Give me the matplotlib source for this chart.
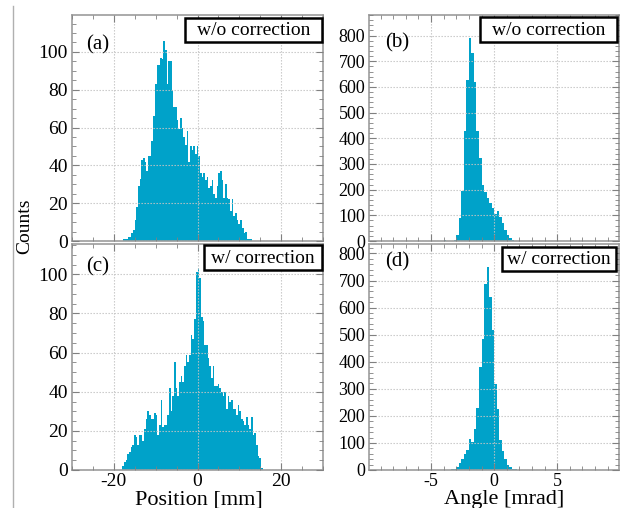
import matplotlib
matplotlib.use('Agg')
import matplotlib.pyplot as plt
import numpy as np
from matplotlib.ticker import MultipleLocator
from matplotlib.patches import Rectangle
from matplotlib.lines import Line2D

plt.rcParams['font.family'] = ['Liberation Serif', 'DejaVu Serif']
plt.rcParams['axes.unicode_minus'] = False

# ---------------- data ----------------
pos_bin_width = 0.4   # mm
ang_bin_width = 0.2   # mrad

pos_a_start = -17.8
pos_a_counts = [1, 1, 1, 2, 2, 4, 6, 11, 18, 29,
                33, 43, 44, 42, 37, 45, 45, 53, 66, 83,
                93, 93, 97, 96, 106, 101, 83, 95, 95, 80,
                71, 71, 64, 59, 65, 60, 55, 51, 58, 42,
                50, 48, 50, 46, 50, 45, 36, 34, 36, 32,
                34, 28, 29, 32, 25, 23, 29, 36, 37, 32,
                23, 30, 23, 22, 16, 22, 13, 15, 11, 9,
                11, 7, 4, 5, 1, 1, 1]

pos_c_start = -18.0
pos_c_counts = [2, 4, 5, 8, 9, 12, 13, 18, 17, 13,
                18, 18, 15, 21, 26, 30, 28, 26, 26, 29,
                28, 18, 23, 36, 22, 23, 23, 28, 42, 30,
                38, 55, 42, 38, 45, 48, 45,
                53, 59, 55, 59, 69, 67, 77, 101, 103, 98,
                78, 76, 64, 64, 57, 53, 47, 53, 43, 43,
                44, 42, 40, 38, 40, 31, 38, 35, 36, 31,
                31, 28, 33, 30, 26, 25, 23, 27, 23, 21,
                27, 18, 19, 13, 7, 6, 1]

ang_b_start = -4.0
ang_b_counts = [2, 0, 0, 1, 5, 23, 88, 196, 427, 628,
                790, 732, 621, 427, 322, 218, 192, 166, 147, 127,
                107, 117, 95, 69, 43, 23, 10, 3, 1]

ang_d_start = -3.4
ang_d_counts = [2, 4, 12, 25, 40, 60, 74, 115, 102, 152,
                230, 380, 485, 689, 750, 640, 516, 318, 226, 109,
                72, 41, 20, 10, 4, 2]

panel_labels = ['(a)', '(b)', '(c)', '(d)']
box_texts = ['w/o correction', 'w/o correction', 'w/ correction', 'w/ correction']
xlabels = ['Position [mm]', 'Angle [mrad]']
ylabel = 'Counts'

# ---------------- figure ----------------
W, H = 628, 508
fig = plt.figure(figsize=(W / 100, H / 100), dpi=100)

def fr(x0, y0, x1, y1):
    return [x0 / W, 1 - y1 / H, (x1 - x0) / W, (y1 - y0) / H]

bar_color = '#00a2c9'
spine_color = '#9c9c9c'
grid_color = '#c4c4c4'

ax_a = fig.add_axes(fr(72, 15, 323, 241))
ax_b = fig.add_axes(fr(369.3, 15, 619, 241))
ax_c = fig.add_axes(fr(72, 244, 323, 470))
ax_d = fig.add_axes(fr(369.3, 244, 619, 470))

def edges(start, width, n):
    return start + width * np.arange(n + 1)

def style(ax, xlim, ylim, xmaj, xmin, ymaj, ymin, show_x, lsize):
    ax.set_xlim(*xlim)
    ax.set_ylim(*ylim)
    ax.xaxis.set_major_locator(MultipleLocator(xmaj))
    ax.xaxis.set_minor_locator(MultipleLocator(xmin))
    ax.yaxis.set_major_locator(MultipleLocator(ymaj))
    ax.yaxis.set_minor_locator(MultipleLocator(ymin))
    ax.grid(True, which='major', color=grid_color, linestyle=(0, (1.2, 1.5)), linewidth=0.8)
    ax.set_axisbelow(False)
    for s in ax.spines.values():
        s.set_color(spine_color)
        s.set_linewidth(1.2)
    ax.tick_params(which='both', direction='in', top=True, right=True, color='#808080')
    ax.tick_params(which='major', length=5, width=0.8, labelsize=lsize, pad=3)
    ax.tick_params(axis='x', which='major', pad=2)
    ax.tick_params(which='minor', length=3, width=0.6)
    if not show_x:
        ax.tick_params(axis='x', labelbottom=False)

# histograms
ax_a.stairs(pos_a_counts, edges(pos_a_start, pos_bin_width, len(pos_a_counts)),
            fill=True, color=bar_color, linewidth=0)
ax_c.stairs(pos_c_counts, edges(pos_c_start, pos_bin_width, len(pos_c_counts)),
            fill=True, color=bar_color, linewidth=0)
ax_b.stairs(ang_b_counts, edges(ang_b_start, ang_bin_width, len(ang_b_counts)),
            fill=True, color=bar_color, linewidth=0)
ax_d.stairs(ang_d_counts, edges(ang_d_start, ang_bin_width, len(ang_d_counts)),
            fill=True, color=bar_color, linewidth=0)

style(ax_a, (-30, 30), (0, 119.5), 20, 5, 20, 5, False, 14)
style(ax_c, (-30, 30), (0, 115.5), 20, 5, 20, 5, True, 14)
style(ax_b, (-9.9, 9.9), (0, 880), 5, 1, 100, 20, False, 13)
style(ax_d, (-9.9, 9.9), (0, 835), 5, 1, 100, 20, True, 13)

# panel labels
for (x, y), lab in zip([(86, 45), (385, 43), (86, 267), (385, 262)], panel_labels):
    fig.text(x / W, 1 - y / H, lab, ha='left', va='center', fontsize=15)

# corner boxes
boxes = [(185, 18, 321.7, 41.7), (480, 17, 616.7, 41.7),
         (204, 245, 321.7, 270), (501.7, 246.7, 616, 270.7)]
for (x0, y0, x1, y1), t in zip(boxes, box_texts):
    fig.add_artist(Rectangle((x0 / W, 1 - y1 / H), (x1 - x0) / W, (y1 - y0) / H,
                             transform=fig.transFigure, facecolor='white',
                             edgecolor='black', linewidth=1.8, zorder=5))
    fig.text((x0 + x1) / 2 / W, 1 - ((y0 + y1) / 2 + 1) / H, t, ha='center', va='center',
             fontsize=14, zorder=6)

# axis titles
fig.text(199 / W, 1 - 499.5 / H, xlabels[0], ha='center', va='center', fontsize=16)
fig.text(504 / W, 1 - 499.5 / H, xlabels[1], ha='center', va='center', fontsize=16)
fig.text(25 / W, 1 - 226 / H, ylabel, ha='center', va='center', rotation=90, fontsize=14)

# left frame line
fig.add_artist(Line2D([13 / W, 13 / W], [0, 1 - 6 / H], transform=fig.transFigure,
                      color='#b0b0b0', linewidth=1.0))

fig.savefig('out.png', dpi=100)
